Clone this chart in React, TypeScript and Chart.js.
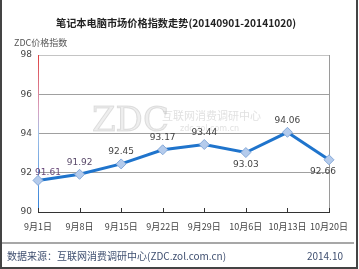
import React, { useEffect, useRef } from "react";
import { Chart, registerables } from "chart.js";

Chart.register(...registerables);

const categories = ["9月1日", "9月8日", "9月15日", "9月22日", "9月29日", "10月6日", "10月13日", "10月20日"];
const indexValues = [91.61, 91.92, 92.45, 93.17, 93.44, 93.03, 94.06, 92.66];
const yTicks = [90, 92, 94, 96, 98];
const labelBelow = [false, false, false, false, false, true, false, true];

const TITLE = "笔记本电脑市场价格指数走势(20140901-20141020)";
const Y_TITLE = "ZDC价格指数";
const SOURCE = "数据来源：互联网消费调研中心(ZDC.zol.com.cn)";
const DATE = "2014.10";

const CJK = "'Noto Sans CJK SC', sans-serif";
const LAT = "'DejaVu Sans', 'Noto Sans CJK SC', sans-serif";

export default function App() {
  const ref = useRef<HTMLCanvasElement | null>(null);
  useEffect(() => {
    document.body.style.margin = "0";
    const canvas = ref.current!;
    const deco = {
      id: "deco",
      beforeDatasetsDraw(chart: any) {
        const { ctx, chartArea: a } = chart;
        ctx.save();
        // watermark
        ctx.fillStyle = "rgba(205,205,205,0.35)";
        ctx.strokeStyle = "rgba(190,190,190,0.45)";
        ctx.lineWidth = 1;
        ctx.font = "34px 'DejaVu Serif', serif";
        ctx.textBaseline = "alphabetic";
        ctx.textAlign = "left";
        ctx.fillText("ZDC", 92, 131);
        ctx.strokeText("ZDC", 92, 131);
        ctx.fillStyle = "rgba(195,195,195,0.5)";
        ctx.font = "11px " + CJK;
        ctx.fillText("互联网消费调研中心", 162, 120);
        ctx.font = "8px " + LAT;
        ctx.fillText("zdc.zol.com.cn", 180, 131);
        // left axis gradient
        const g = ctx.createLinearGradient(0, a.top, 0, a.bottom);
        g.addColorStop(0, "#e04040");
        g.addColorStop(0.35, "#d8a0c0");
        g.addColorStop(0.5, "#a0c0e8");
        g.addColorStop(1, "#2f7fd8");
        ctx.strokeStyle = g;
        ctx.lineWidth = 1;
        ctx.beginPath();
        ctx.moveTo(a.left + 0.5, a.top);
        ctx.lineTo(a.left + 0.5, a.bottom);
        ctx.stroke();
        // right border
        ctx.strokeStyle = "#9a9a9a";
        ctx.beginPath();
        ctx.moveTo(a.right + 0.5, a.top);
        ctx.lineTo(a.right + 0.5, a.bottom);
        ctx.stroke();
        // bottom axis with inward ticks
        const xs = chart.scales.x;
        ctx.strokeStyle = "#333";
        ctx.lineWidth = 1.2;
        ctx.beginPath();
        ctx.moveTo(a.left, a.bottom + 0.5);
        ctx.lineTo(a.right + 1, a.bottom + 0.5);
        ctx.stroke();
        ctx.lineWidth = 1;
        categories.forEach((_, i) => {
          const x = Math.round(xs.getPixelForValue(i)) + 0.5;
          ctx.beginPath();
          ctx.moveTo(x, a.bottom);
          ctx.lineTo(x, a.bottom - 4);
          ctx.stroke();
        });
        ctx.restore();
      },
      afterDatasetsDraw(chart: any) {
        const { ctx } = chart;
        const meta = chart.getDatasetMeta(0);
        ctx.save();
        ctx.font = "9px " + LAT;
        ctx.textAlign = "center";
        ctx.textBaseline = "middle";
        meta.data.forEach((pt: any, i: number) => {
          const v = indexValues[i];
          let x = pt.x;
          let y = labelBelow[i] ? pt.y + 12 : pt.y - 12;
          if (i === 0) { x += 10; y = pt.y - 8; ctx.fillStyle = "#6a4a7a"; }
          else if (i === 1) ctx.fillStyle = "#5a4a6a";
          else ctx.fillStyle = "#444";
          if (i === categories.length - 1) x -= 6;
          ctx.fillText(v.toFixed(2), x, y);
        });
        ctx.restore();
      },
      afterDraw(chart: any) {
        const { ctx, width, height } = chart;
        ctx.save();
        ctx.fillStyle = "#222";
        ctx.textAlign = "center";
        ctx.textBaseline = "middle";
        ctx.font = "bold 10.2px " + CJK;
        ctx.fillText(TITLE, 176, 23);
        ctx.font = "9px " + CJK;
        ctx.fillStyle = "#555";
        ctx.textAlign = "left";
        ctx.fillText(Y_TITLE, 14, 43);
        // footer line
        ctx.strokeStyle = "#8a8a8a";
        ctx.lineWidth = 1.5;
        ctx.beginPath();
        ctx.moveTo(2, 243);
        ctx.lineTo(354, 243);
        ctx.stroke();
        ctx.font = "10px " + CJK;
        ctx.fillStyle = "#3f4f70";
        ctx.fillText(SOURCE, 7, 256);
        ctx.textAlign = "right";
        ctx.fillText(DATE, 343, 256);
        // frame
        ctx.strokeStyle = "#444";
        ctx.lineWidth = 2;
        ctx.beginPath();
        ctx.moveTo(1, 0);
        ctx.lineTo(1, height - 1);
        ctx.lineTo(width - 2, height - 1);
        ctx.lineTo(width - 2, 0);
        ctx.stroke();
        ctx.restore();
      },
    };
    const chart = new Chart(canvas, {
      type: "line",
      data: {
        labels: categories,
        datasets: [
          {
            data: indexValues,
            borderColor: "#1f74cc",
            borderWidth: 3,
            pointStyle: "rectRot",
            pointRadius: 5,
            pointBackgroundColor: "#b4cbec",
            pointBorderColor: "#86a9d8",
            pointBorderWidth: 1,
            tension: 0,
          },
        ],
      },
      options: {
        responsive: false,
        animation: false,
        layout: { padding: { left: 0, right: 30, top: 55, bottom: 37 } },
        plugins: { legend: { display: false }, tooltip: { enabled: false }, title: { display: false } },
        scales: {
          x: {
            offset: false,
            grid: { display: false },
            border: { display: false },
            ticks: { color: "#444", font: { size: 9, family: CJK }, maxRotation: 0, autoSkip: false, padding: 1 },
            afterFit: (s: any) => { s.height = 20; },
          },
          y: {
            min: 90,
            max: 98,
            afterBuildTicks: (s: any) => { s.ticks = yTicks.map((v) => ({ value: v })); },
            grid: {
              color: (c: any) => (c.tick && c.tick.value === 90 ? "rgba(0,0,0,0)" : c.tick && c.tick.value === 98 ? "#c4c4c4" : "#a0a0a0"),
              drawTicks: false,
            },
            border: { display: false },
            ticks: { color: "#444", font: { size: 9, family: LAT }, padding: 6 },
            afterFit: (s: any) => { s.width = 38; },
          },
        },
      },
      plugins: [deco],
    });
    return () => chart.destroy();
  }, []);
  return <canvas ref={ref} width={359} height={269} style={{ display: "block" }} />;
}
